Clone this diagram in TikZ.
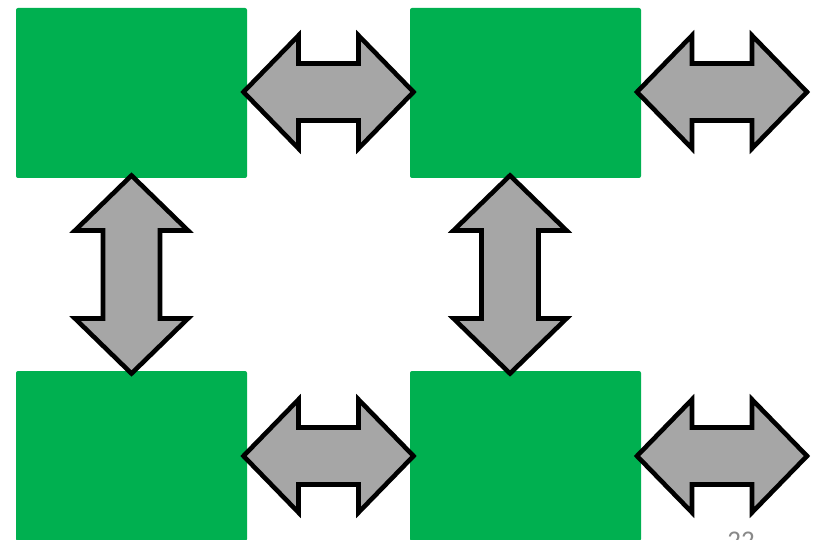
\documentclass[tikz,border=0pt]{standalone}
\usepackage{fontspec}
\setmainfont{Carlito}
\usepackage{xcolor}
\usetikzlibrary{calc}
\definecolor{VerdeCaja}{RGB}{0,176,80}
\definecolor{GrisFlecha}{RGB}{166,166,166}
\definecolor{GrisNumero}{RGB}{137,137,137}

\tikzset{
  caja/.style={fill=VerdeCaja, rounded corners=2pt, inner sep=0pt, outer sep=0pt,
    minimum width=231pt, minimum height=170pt},
  pics/flechadoble/.style={code={
    \draw[fill=GrisFlecha, line width=4.6pt, line join=miter]
      ({-#1/2},0) -- ({-#1/2+55},56.5) -- ({-#1/2+55},28.5) -- ({#1/2-55},28.5)
      -- ({#1/2-55},56.5) -- ({#1/2},0) -- ({#1/2-55},-56.5) -- ({#1/2-55},-28.5)
      -- ({-#1/2+55},-28.5) -- ({-#1/2+55},-56.5) -- cycle;
  }}
}

\begin{document}
\begin{tikzpicture}[x=1pt, y=-1pt]
    \clip (0,0) rectangle (816,540);
    \fill[white] (0,0) rectangle (816,540);

    % cajas
    \node[caja] (A) at (131.5,93) {};
    \node[caja] (B) at (525.5,93) {};
    \node[caja] (C) at (131.5,456) {};
    \node[caja] (D) at (525.5,456) {};

    \coordinate (AB) at ($(A.east)!0.5!(B.west)+(0,-1)$);
    \coordinate (CD) at ($(C.east)!0.5!(D.west)$);
    \coordinate (Bder) at ($(B.east)+(81,-1)$);
    \coordinate (Dder) at ($(D.east)+(81,0)$);
    \coordinate (AC) at ($(A.south)!0.5!(C.north)$);
    \coordinate (BD) at ($(B.south)!0.5!(D.north)+(-15.5,0)$);

    % flechas
    \pic at (AB) {flechadoble=170};
    \pic at (CD) {flechadoble=170};
    \pic at (Bder) {flechadoble=170};
    \pic at (Dder) {flechadoble=170};
    \pic[rotate=90] at (AC) {flechadoble=198};
    \pic[rotate=90] at (BD) {flechadoble=198};

    \node[anchor=base, text=GrisNumero, font=\fontsize{27}{30}\selectfont]
        (num) at (741,549) {22};
\end{tikzpicture}
\end{document}
